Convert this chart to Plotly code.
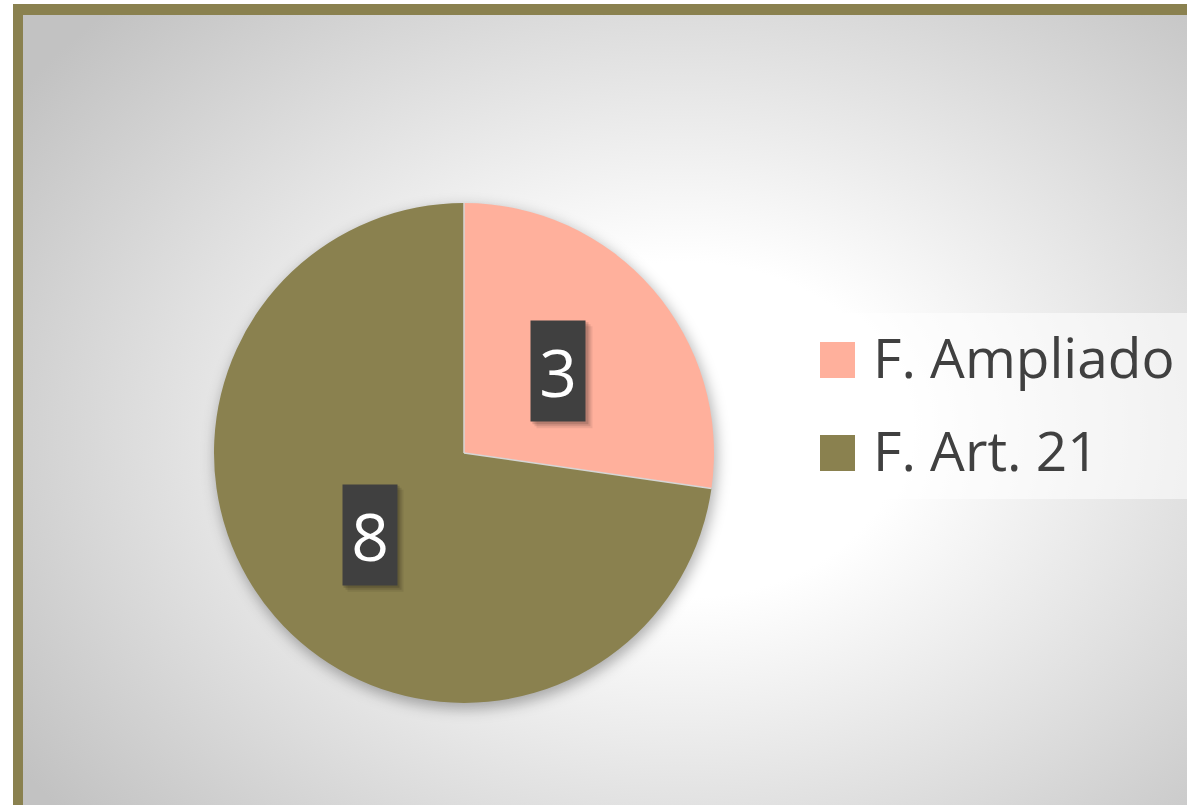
import math
import base64
import plotly.graph_objects as go

# ---- data ----
labels = ["F. Ampliado", "F. Art. 21"]
values = [3, 8]
colors = ["#FFB09C", "#8A814F"]

W, H = 1187, 805
# pie placement (pixels)
PCX, PCY, PR = 464, 453, 250

# ---- background (radial gradient + soft pie shadow) as an SVG image ----
svg = f'''<svg xmlns="http://www.w3.org/2000/svg" width="{W}" height="{H}" viewBox="0 0 {W} {H}" preserveAspectRatio="none">
<defs>
<radialGradient id="g" gradientUnits="userSpaceOnUse" cx="0" cy="0" r="1" gradientTransform="translate(680 430) scale(800 600)">
<stop offset="0" stop-color="#ffffff"/>
<stop offset="0.28" stop-color="#ffffff"/>
<stop offset="1" stop-color="#c2c2c2"/>
</radialGradient>
<filter id="b" x="-20%" y="-20%" width="140%" height="140%"><feGaussianBlur stdDeviation="7"/></filter>
</defs>
<rect x="0" y="0" width="{W}" height="{H}" fill="#ffffff"/>
<rect x="18" y="10" width="{W}" height="{H}" fill="url(#g)"/>
<circle cx="{PCX+2}" cy="{PCY+5}" r="{PR+1}" fill="rgba(0,0,0,0.30)" filter="url(#b)"/>
</svg>'''
src = "data:image/svg+xml;base64," + base64.b64encode(svg.encode()).decode()

dom_x = [(PCX - PR) / W, (PCX + PR) / W]
dom_y = [1 - (PCY + PR) / H, 1 - (PCY - PR) / H]

fig = go.Figure(go.Pie(
    labels=labels, values=values, sort=False, direction="clockwise", rotation=0,
    marker=dict(colors=colors, line=dict(width=0)),
    textinfo="none", showlegend=False, domain=dict(x=dom_x, y=dom_y),
))

shapes = []
annotations = []

# border (top and left)
olive = "#8A814F"
shapes.append(dict(type="rect", xref="paper", yref="paper", x0=13 / W, x1=1, y0=1 - 15 / H, y1=1 - 4 / H,
                   fillcolor=olive, line=dict(width=0), layer="above"))
shapes.append(dict(type="rect", xref="paper", yref="paper", x0=13 / W, x1=23 / W, y0=0, y1=1 - 4 / H,
                   fillcolor=olive, line=dict(width=0), layer="above"))

total = sum(values)

# slice separators (light line between slices only)
cum = 0
for v in values:
    ang = cum / total * 2 * math.pi
    cum += v
    shapes.append(dict(type="line", xref="paper", yref="paper",
                       x0=PCX / W, y0=1 - PCY / H,
                       x1=(PCX + PR * math.sin(ang)) / W, y1=1 - (PCY - PR * math.cos(ang)) / H,
                       line=dict(color="#d6d6d6", width=1.5), layer="above"))

# data labels in dark boxes at half radius of slice mid-angle
cum = 0
BW, BH = 54, 100
for v in values:
    mid = (cum + v / 2) / total * 2 * math.pi
    cum += v
    px = PCX + 0.5 * PR * math.sin(mid)
    py = PCY - 0.5 * PR * math.cos(mid)
    # soft shadow
    for off, op in [(7, 0.07), (5, 0.10), (3, 0.14)]:
        shapes.append(dict(type="rect", xref="paper", yref="paper",
                           x0=(px - BW / 2 + off - 2) / W, x1=(px + BW / 2 + off) / W,
                           y0=1 - (py + BH / 2 + off) / H, y1=1 - (py - BH / 2 + off - 2) / H,
                           fillcolor=f"rgba(0,0,0,{op})", line=dict(width=0), layer="above"))
    annotations.append(dict(xref="paper", yref="paper", x=px / W, y=1 - py / H,
                            xanchor="center", yanchor="middle", showarrow=False,
                            text=str(v), width=BW, height=BH, borderpad=0,
                            bgcolor="#404040", valign="middle",
                            font=dict(family="Open Sans", size=66, color="#ffffff")))

# legend (manual)
shapes.append(dict(type="rect", xref="paper", yref="paper", x0=796 / W, x1=1, y0=1 - 499 / H, y1=1 - 313 / H,
                   fillcolor="rgba(255,255,255,0.55)", line=dict(width=0), layer="above"))
rows_y = [360, 453]
for lab, col, ry in zip(labels, colors, rows_y):
    shapes.append(dict(type="rect", xref="paper", yref="paper", x0=820 / W, x1=855 / W,
                       y0=1 - (ry + 18) / H, y1=1 - (ry - 18) / H,
                       fillcolor=col, line=dict(width=0), layer="above"))
    annotations.append(dict(xref="paper", yref="paper", x=871 / W, y=1 - (ry - 4) / H,
                            xanchor="left", yanchor="middle", showarrow=False, text=lab,
                            font=dict(family="Open Sans", size=55, color="#404040")))

fig.update_layout(
    width=W, height=H, margin=dict(l=0, r=0, t=0, b=0),
    paper_bgcolor="#ffffff", plot_bgcolor="#ffffff",
    images=[dict(source=src, xref="paper", yref="paper", x=0, y=1, sizex=1, sizey=1,
                 xanchor="left", yanchor="top", sizing="stretch", layer="below")],
    shapes=shapes, annotations=annotations,
)
fig.write_html("out.html", config={"displayModeBar": False},
               post_script="document.body.style.margin='0';document.body.style.overflow='hidden';")
